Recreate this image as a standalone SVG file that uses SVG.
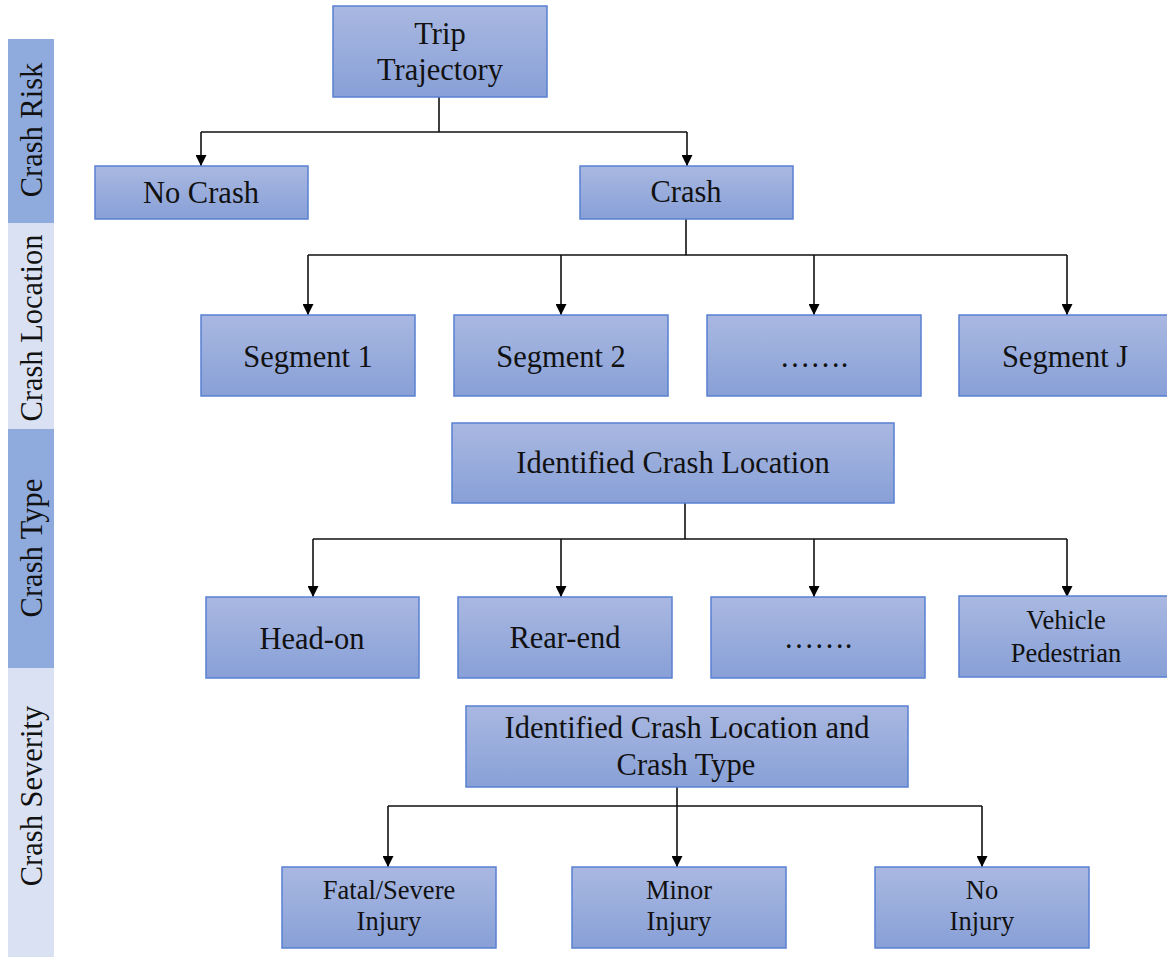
<svg xmlns="http://www.w3.org/2000/svg" width="1167" height="957" viewBox="0 0 1167 957">
<defs>
<linearGradient id="g" x1="0" y1="0" x2="0" y2="1">
<stop offset="0" stop-color="#A9B8E1"/>
<stop offset="1" stop-color="#88A0D7"/>
</linearGradient>
<marker id="arr" markerWidth="11" markerHeight="11" refX="11" refY="5.5" orient="auto" markerUnits="userSpaceOnUse">
<path d="M0,0 L11,5.5 L0,11 Z" fill="#000"/>
</marker>
<style>
.box{fill:url(#g);stroke:#5A80D2;stroke-width:1.5}
.t{font-family:"Liberation Serif","Times New Roman",serif;font-size:30.5px;fill:#111;text-anchor:middle}
.s{font-size:26.5px}
.c{fill:none;stroke:#111;stroke-width:1.6}
.a{marker-end:url(#arr)}
.dk{fill:#8FAADC}
.lt{fill:#DAE1F3}
</style>
</defs>
<rect width="1167" height="957" fill="#fff"/>
<g id="sidebar">
<rect class="dk" x="8" y="39" width="46" height="184"/>
<rect class="lt" x="8" y="223" width="46" height="206"/>
<rect class="dk" x="8" y="429" width="46" height="239"/>
<rect class="lt" x="8" y="668" width="46" height="289"/>
<text class="t" transform="translate(42,130) rotate(-90)">Crash Risk</text>
<text class="t" transform="translate(42,328) rotate(-90)">Crash Location</text>
<text class="t" transform="translate(42,548) rotate(-90)">Crash Type</text>
<text class="t" transform="translate(42,796) rotate(-90)">Crash Severity</text>
</g>
<g id="connectors">
<path class="c" d="M439,97 V132 M201,132 H687 M686,219 V255 M308,255 H1067 M685,503 V539 M313,539 H1067 M677,787 V806 M388,806 H982"/>
<path class="c a" d="M201,132 V166"/>
<path class="c a" d="M687,132 V166"/>
<path class="c a" d="M308,255 V315"/>
<path class="c a" d="M561,255 V315"/>
<path class="c a" d="M814,255 V315"/>
<path class="c a" d="M1067,255 V315"/>
<path class="c a" d="M313,539 V597"/>
<path class="c a" d="M561,539 V597"/>
<path class="c a" d="M814,539 V597"/>
<path class="c a" d="M1067,539 V597"/>
<path class="c a" d="M388,806 V867"/>
<path class="c a" d="M677,806 V867"/>
<path class="c a" d="M982,806 V867"/>
</g>
<g id="trip"><rect class="box" x="333" y="6" width="214" height="91"/><text class="t" x="440" y="44">Trip</text><text class="t" x="440" y="80">Trajectory</text></g>
<g id="nocrash"><rect class="box" x="95" y="166" width="213" height="53"/><text class="t" x="201" y="203">No Crash</text></g>
<g id="crash"><rect class="box" x="580" y="166" width="213" height="53"/><text class="t" x="686" y="202">Crash</text></g>
<g id="seg1"><rect class="box" x="201" y="315" width="214" height="81"/><text class="t" x="308" y="367">Segment 1</text></g>
<g id="seg2"><rect class="box" x="454" y="315" width="214" height="81"/><text class="t" x="561" y="367">Segment 2</text></g>
<g id="segdots"><rect class="box" x="707" y="315" width="214" height="81"/><text class="t" x="814" y="367">…….</text></g>
<g id="segj"><rect class="box" x="959" y="315" width="214" height="81"/><text class="t" x="1065" y="367">Segment J</text></g>
<g id="icl"><rect class="box" x="452" y="423" width="442" height="80"/><text class="t" x="673" y="473">Identified Crash Location</text></g>
<g id="headon"><rect class="box" x="206" y="597" width="213" height="81"/><text class="t" x="312" y="649">Head-on</text></g>
<g id="rearend"><rect class="box" x="458" y="597" width="214" height="81"/><text class="t" x="565" y="648">Rear-end</text></g>
<g id="typedots"><rect class="box" x="711" y="597" width="214" height="81"/><text class="t" x="818" y="648">…….</text></g>
<g id="vehped"><rect class="box" x="959" y="596" width="214" height="81"/><text class="t s" x="1066" y="629">Vehicle</text><text class="t s" x="1066" y="662">Pedestrian</text></g>
<g id="iclt"><rect class="box" x="466" y="706" width="442" height="81"/><text class="t" x="687" y="738">Identified Crash Location and</text><text class="t" x="686" y="775">Crash Type</text></g>
<g id="fatal"><rect class="box" x="282" y="867" width="214" height="81"/><text class="t s" x="389" y="899">Fatal/Severe</text><text class="t s" x="389" y="930">Injury</text></g>
<g id="minor"><rect class="box" x="572" y="867" width="214" height="81"/><text class="t s" x="679" y="899">Minor</text><text class="t s" x="679" y="930">Injury</text></g>
<g id="noinjury"><rect class="box" x="875" y="867" width="214" height="81"/><text class="t s" x="982" y="899">No</text><text class="t s" x="982" y="930">Injury</text></g>
</svg>
